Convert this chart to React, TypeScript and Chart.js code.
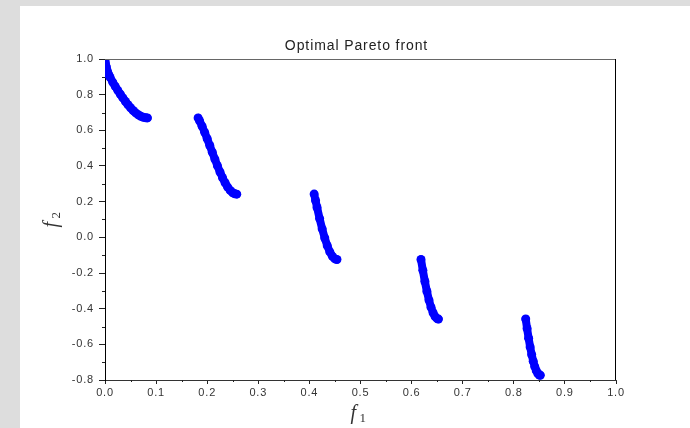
import React, { useEffect, useRef } from "react";
import { Chart, registerables } from "chart.js";

Chart.register(...registerables);

// Five disconnected pieces of the optimal Pareto front (f1, f2)
const seg1F1 = [0, 0.0005, 0.001, 0.002, 0.0035, 0.005, 0.0075, 0.01, 0.015, 0.02, 0.025, 0.03, 0.035, 0.04, 0.045, 0.05, 0.055, 0.06, 0.065, 0.07, 0.075, 0.08, 0.083];
const seg1F2 = [1.0, 0.9776, 0.9684, 0.9552, 0.9405, 0.9285, 0.9116, 0.8969, 0.8707, 0.8468, 0.8242, 0.8025, 0.7817, 0.762, 0.7434, 0.7264, 0.7112, 0.698, 0.6871, 0.6788, 0.6731, 0.6701, 0.6696];

const seg2F1 = [0.1822, 0.185, 0.19, 0.195, 0.2, 0.205, 0.21, 0.215, 0.22, 0.225, 0.23, 0.235, 0.24, 0.245, 0.25, 0.254, 0.2578];
const seg2F2 = [0.6698, 0.6539, 0.6228, 0.5889, 0.5528, 0.5152, 0.4768, 0.4387, 0.4016, 0.3666, 0.3343, 0.3058, 0.2818, 0.2631, 0.25, 0.244, 0.2421];

const seg3F1 = [0.4093, 0.412, 0.415, 0.42, 0.425, 0.43, 0.435, 0.44, 0.445, 0.45, 0.4539];
const seg3F2 = [0.2423, 0.2065, 0.1674, 0.1051, 0.0476, -0.0036, -0.0471, -0.0818, -0.1066, -0.1208, -0.1242];

const seg4F1 = [0.6184, 0.622, 0.626, 0.63, 0.634, 0.638, 0.642, 0.646, 0.65, 0.6525];
const seg4F2 = [-0.1243, -0.1852, -0.2475, -0.3034, -0.3518, -0.392, -0.4231, -0.4446, -0.4562, -0.4583];

const seg5F1 = [0.8233, 0.826, 0.829, 0.832, 0.835, 0.838, 0.841, 0.844, 0.847, 0.85, 0.8518];
const seg5F2 = [-0.4577, -0.511, -0.5655, -0.6146, -0.6578, -0.6946, -0.7247, -0.7477, -0.7636, -0.772, -0.7734];

const segmentsF1 = [seg1F1, seg2F1, seg3F1, seg4F1, seg5F1];
const segmentsF2 = [seg1F2, seg2F2, seg3F2, seg4F2, seg5F2];

const titleText = "Optimal Pareto front";
const xMin = 0, xMax = 1, xStep = 0.1;
const yMin = -0.8, yMax = 1.0, yStep = 0.2;

const W = 670;
const H = 422;
const BLUE = "#0000ff";
const SANS = "'Liberation Sans', Arial, sans-serif";
const SERIF = "'Liberation Serif', 'DejaVu Serif', serif";

const fmt = (v: number) => {
  const s = v.toFixed(1);
  return s === "-0.0" ? "0.0" : s;
};

// slightly spaced lettering for tick labels
const spacingPlugin = {
  id: "letterSpacing",
  beforeDraw(chart: any) {
    chart.ctx.letterSpacing = "0.8px";
  },
};

const framePlugin = {
  id: "frameAndLabels",
  afterDraw(chart: any) {
    const { ctx, chartArea: a, scales } = chart;
    const xs = scales.x;
    const ys = scales.y;
    ctx.save();
    // top and right frame lines
    ctx.lineWidth = 1;
    ctx.strokeStyle = "#666666";
    ctx.beginPath();
    ctx.moveTo(a.left, a.top + 0.5);
    ctx.lineTo(a.right, a.top + 0.5);
    ctx.stroke();
    ctx.strokeStyle = "#000000";
    ctx.beginPath();
    ctx.moveTo(a.right - 0.5, a.top);
    ctx.lineTo(a.right - 0.5, a.bottom);
    ctx.stroke();

    // minor ticks
    ctx.strokeStyle = "#222222";
    ctx.beginPath();
    for (let v = xMin + xStep / 2; v < xMax; v += xStep) {
      const px = Math.round(xs.getPixelForValue(v)) + 0.5;
      ctx.moveTo(px, a.bottom);
      ctx.lineTo(px, a.bottom + 2);
    }
    for (let v = yMin + yStep / 2; v < yMax; v += yStep) {
      const py = Math.round(ys.getPixelForValue(v)) + 0.5;
      ctx.moveTo(a.left, py);
      ctx.lineTo(a.left - 3, py);
    }
    ctx.stroke();

    // title
    ctx.letterSpacing = "0.9px";
    ctx.fillStyle = "#222222";
    ctx.font = `14px ${SANS}`;
    ctx.textAlign = "center";
    ctx.textBaseline = "alphabetic";
    ctx.fillText(titleText, (a.left + a.right) / 2 - 4, 44);
    ctx.letterSpacing = "0px";

    // x axis title: f_1
    const cx = (a.left + a.right) / 2;
    ctx.fillStyle = "#333333";
    ctx.textAlign = "left";
    ctx.font = `italic 20px ${SERIF}`;
    ctx.fillText("f", cx - 10, 413);
    ctx.font = `13px ${SERIF}`;
    ctx.fillText("1", cx - 1, 416);

    // y axis title: f_2 (rotated)
    const cy = (a.top + a.bottom) / 2;
    ctx.translate(37, cy - 1);
    ctx.rotate(-Math.PI / 2);
    ctx.font = `italic 20px ${SERIF}`;
    ctx.fillText("f", -9, 0);
    ctx.font = `13px ${SERIF}`;
    ctx.fillText("2", 0, 3);
    ctx.restore();
  },
};

export default function App() {
  const ref = useRef<HTMLCanvasElement | null>(null);

  useEffect(() => {
    if (!ref.current) return;
    const datasets = segmentsF1.map((xsArr, i) => ({
      data: xsArr.map((x, j) => ({ x, y: segmentsF2[i][j] })),
      showLine: true,
      borderColor: BLUE,
      backgroundColor: BLUE,
      borderWidth: 8,
      borderCapStyle: "round" as const,
      borderJoinStyle: "round" as const,
      pointRadius: 4.5,
      pointBorderWidth: 0,
      pointHoverRadius: 4.5,
      tension: 0,
    }));

    const chart = new Chart(ref.current, {
      type: "scatter",
      data: { datasets },
      options: {
        responsive: false,
        animation: false,
        devicePixelRatio: 1,
        layout: { padding: { left: 0, top: 53, right: 74, bottom: 0 } },
        plugins: {
          legend: { display: false },
          title: { display: false },
          tooltip: { enabled: false },
        },
        scales: {
          x: {
            type: "linear",
            min: xMin,
            max: xMax,
            afterFit: (s: any) => {
              s.height = 48;
            },
            ticks: {
              stepSize: xStep,
              color: "#333333",
              font: { family: SANS, size: 11 },
              padding: 2,
              maxRotation: 0,
              callback: (v: any) => fmt(Number(v)),
            },
            grid: {
              drawOnChartArea: false,
              tickLength: 4,
              color: "#222222",
            },
            border: { color: "#333333", width: 1 },
          },
          y: {
            type: "linear",
            min: yMin,
            max: yMax,
            afterFit: (s: any) => {
              s.width = 85;
            },
            ticks: {
              stepSize: yStep,
              color: "#333333",
              font: { family: SANS, size: 11 },
              padding: 5,
              callback: (v: any) => fmt(Number(v)),
            },
            grid: {
              drawOnChartArea: false,
              tickLength: 6,
              color: "#222222",
            },
            border: { color: "#000000", width: 1 },
          },
        },
      },
      plugins: [spacingPlugin, framePlugin],
    });
    return () => chart.destroy();
  }, []);

  return (
    <div
      style={{
        position: "fixed",
        left: 0,
        top: 0,
        width: 690,
        height: 428,
        background: "#dddddd",
        overflow: "hidden",
      }}
    >
      <div
        style={{
          position: "absolute",
          left: 20,
          top: 6,
          width: W,
          height: H,
          background: "#ffffff",
        }}
      >
        <canvas ref={ref} width={W} height={H} style={{ display: "block", width: W, height: H }} />
      </div>
    </div>
  );
}
